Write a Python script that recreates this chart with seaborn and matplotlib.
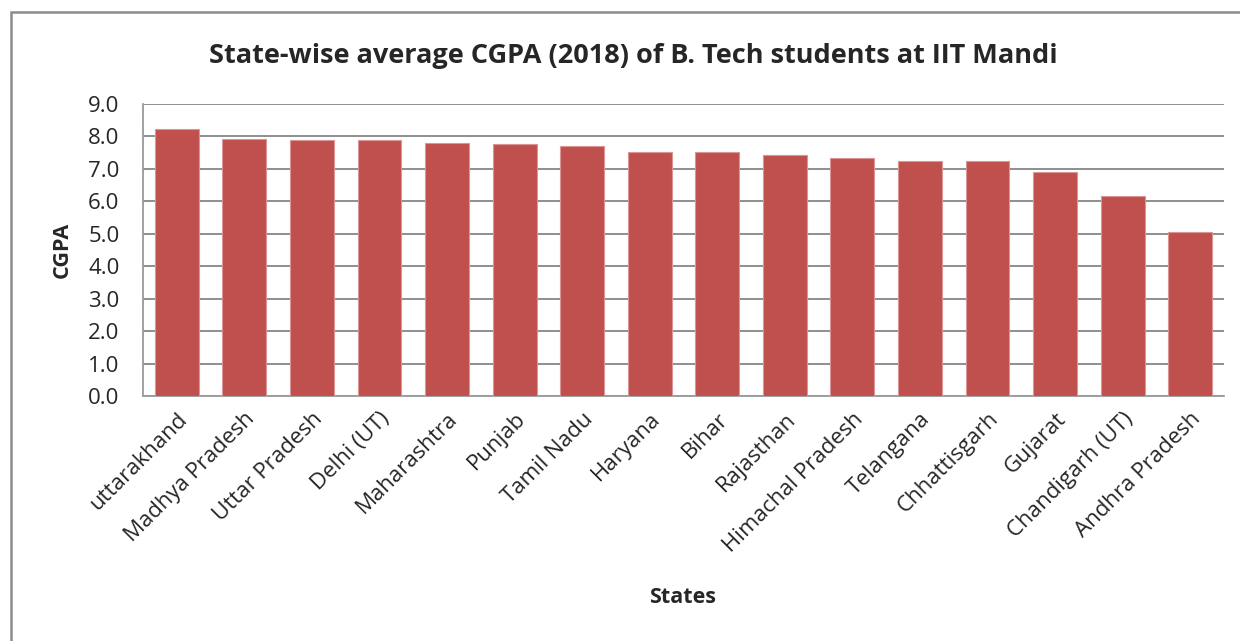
import pandas as pd
import matplotlib
matplotlib.use('Agg')
import matplotlib.pyplot as plt
import seaborn as sns
from matplotlib.patches import Rectangle

states = ['uttarakhand', 'Madhya Pradesh', 'Uttar Pradesh', 'Delhi (UT)',
          'Maharashtra', 'Punjab', 'Tamil Nadu', 'Haryana', 'Bihar',
          'Rajasthan', 'Himachal Pradesh', 'Telangana', 'Chhattisgarh',
          'Gujarat', 'Chandigarh (UT)', 'Andhra Pradesh']
cgpa = [8.23, 7.93, 7.90, 7.88, 7.81, 7.78, 7.70, 7.53, 7.53,
        7.43, 7.34, 7.25, 7.25, 6.89, 6.16, 5.05]
y_ticks = [0.0, 1.0, 2.0, 3.0, 4.0, 5.0, 6.0, 7.0, 8.0, 9.0]

sns.set_style('white')
plt.rcParams['font.family'] = ['Open Sans', 'DejaVu Sans']

df = pd.DataFrame({'State': states, 'CGPA': cgpa})

fig = plt.figure(figsize=(12.4, 6.41), dpi=100)
ax = fig.add_axes([143 / 1240, 1 - 396 / 641, (1224 - 143) / 1240, (396 - 104) / 641])

# outer chart frame, running off the right and bottom edges
fig.patches.append(Rectangle((11 / 1240, -0.05), 1.2, 1 - 12 / 641 + 0.05,
                             transform=fig.transFigure, fill=False,
                             edgecolor='#8c8c8c', linewidth=1.8, zorder=0))

sns.barplot(data=df, x='State', y='CGPA', color='#C0504D', width=0.65,
            edgecolor='#D99694', linewidth=0.8, saturation=1, ax=ax, zorder=3)

ax.set_ylim(0, 9)
ax.set_xlim(-0.5, len(states) - 0.5)
ax.set_yticks(y_ticks)
ax.set_yticklabels([f'{v:.1f}' for v in y_ticks], fontsize=16)
ax.set_xticks(range(len(states)))
ax.set_xticklabels(states, rotation=45, ha='right', rotation_mode='anchor', fontsize=16)
ax.tick_params(axis='y', length=0, pad=17)
ax.tick_params(axis='x', length=0, pad=9)

ax.yaxis.grid(True, color='#868686', linewidth=1.3)
ax.set_axisbelow(True)
for side in ['top', 'right']:
    ax.spines[side].set_visible(False)
for side in ['left', 'bottom']:
    ax.spines[side].set_color('#9a9a9a')
    ax.spines[side].set_linewidth(1.3)

ax.set_xlabel('States', fontsize=15.5, fontweight='bold')
ax.xaxis.set_label_coords((683 - 143) / (1224 - 143), -(587 - 396) / (396 - 104))
ax.set_ylabel('CGPA', fontsize=15.5, fontweight='bold')
ax.yaxis.set_label_coords(-(143 - 73) / (1224 - 143), 0.5)

fig.text(633 / 1240, 1 - 56 / 641, 'State-wise average CGPA (2018) of B. Tech students at IIT Mandi',
         ha='center', va='center', fontsize=19.5, fontweight='bold')

fig.savefig('out.png', dpi=100)
